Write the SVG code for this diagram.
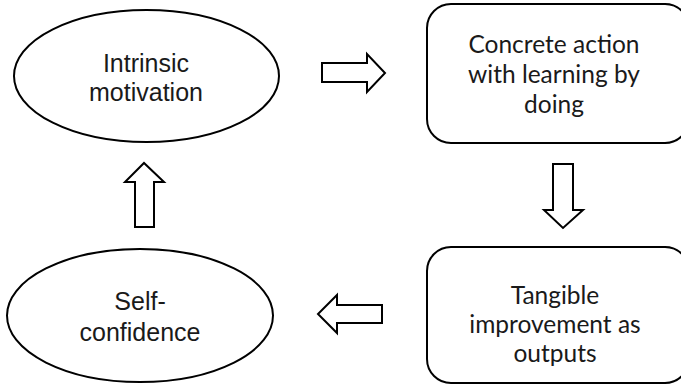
<svg xmlns="http://www.w3.org/2000/svg" width="681" height="386" viewBox="0 0 681 386">
<style>
.shape{fill:#fff;stroke:#000;stroke-width:2}
.arrow{fill:#fff;stroke:#000;stroke-width:2;stroke-linejoin:miter}
.t1{font-family:"Liberation Sans",Arial,sans-serif;font-size:25px;fill:#1a1a1a;text-anchor:middle}
.t2{font-family:Lato,"Open Sans",sans-serif;font-size:24.5px;fill:#1a1a1a;text-anchor:middle}
</style>
<rect width="681" height="386" fill="#fff"/>
<g id="intrinsic-motivation">
<ellipse class="shape" cx="146.5" cy="76" rx="132.5" ry="66"/>
<text class="t1" x="146" y="72">Intrinsic</text>
<text class="t1" x="146" y="101">motivation</text>
</g>
<g id="concrete-action">
<rect class="shape" x="427" y="4" width="262" height="139" rx="24" ry="24"/>
<text class="t2" x="554" y="53">Concrete action</text>
<text class="t2" x="554" y="83">with learning by</text>
<text class="t2" x="554" y="113">doing</text>
</g>
<g id="tangible-improvement">
<rect class="shape" x="427" y="247" width="262" height="136" rx="24" ry="24"/>
<text class="t2" x="555" y="304">Tangible</text>
<text class="t2" x="555" y="333">improvement as</text>
<text class="t2" x="555" y="362">outputs</text>
</g>
<g id="self-confidence">
<ellipse class="shape" cx="140" cy="315.5" rx="133" ry="66.5"/>
<text class="t1" x="140" y="310">Self-</text>
<text class="t1" x="140" y="341">confidence</text>
</g>
<g id="connectors">
<polygon class="arrow" points="322,63 367,63 367,54 385,73 367,92 367,82 322,82"/>
<polygon class="arrow" points="553,164 573,164 573,210 583,210 563,228 544,210 553,210"/>
<polygon class="arrow" points="382,305 337,305 337,295 318,314 337,333 337,323 382,323"/>
<polygon class="arrow" points="135,227 154,227 154,182 164,182 144,163 125,182 135,182"/>
</g>
</svg>
